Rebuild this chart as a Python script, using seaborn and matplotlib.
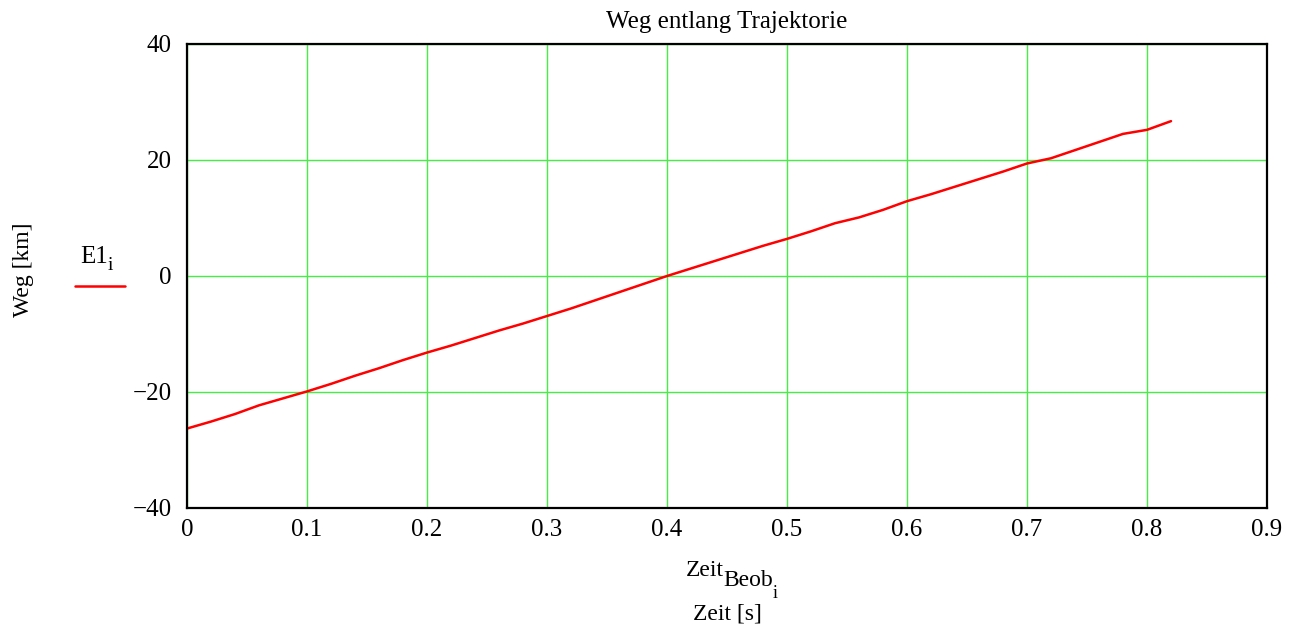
import matplotlib
matplotlib.use("Agg")
import matplotlib.pyplot as plt
import seaborn as sns
import numpy as np
import pandas as pd

time_s = [0.00, 0.02, 0.04, 0.06, 0.08, 0.10, 0.12, 0.14, 0.16, 0.18,
          0.20, 0.22, 0.24, 0.26, 0.28, 0.30, 0.32, 0.34, 0.36, 0.38,
          0.40, 0.42, 0.44, 0.46, 0.48, 0.50, 0.52, 0.54, 0.56, 0.58,
          0.60, 0.62, 0.64, 0.66, 0.68, 0.70, 0.72, 0.74, 0.76, 0.78,
          0.80, 0.82]
weg_km = [-26.3, -25.1, -23.8, -22.3, -21.1, -19.9, -18.6, -17.2, -15.9, -14.5,
          -13.2, -12.0, -10.7, -9.4, -8.2, -6.9, -5.6, -4.2, -2.8, -1.4,
          0.0, 1.3, 2.6, 3.9, 5.2, 6.4, 7.7, 9.1, 10.1, 11.4,
          12.9, 14.1, 15.4, 16.7, 18.0, 19.4, 20.3, 21.7, 23.1, 24.5,
          25.2, 26.7]
x_ticks = [0, 0.1, 0.2, 0.3, 0.4, 0.5, 0.6, 0.7, 0.8, 0.9]
x_labels = ["0", "0.1", "0.2", "0.3", "0.4", "0.5", "0.6", "0.7", "0.8", "0.9"]
y_ticks = [-40, -20, 0, 20, 40]
y_labels = ["\u221240", "\u221220", "0", "20", "40"]

sns.set_style("white")
plt.rcParams['font.family'] = ['Liberation Serif', 'DejaVu Serif']
plt.rcParams['text.color'] = 'black'

df = pd.DataFrame({"t": time_s, "w": weg_km})

fig = plt.figure(figsize=(13.03, 6.32), dpi=100)
ax = fig.add_axes([187/1303, (632-508)/632, 1080/1303, 464/632])
sns.lineplot(data=df, x="t", y="w", ax=ax, color="#ff0000", linewidth=1.8)

ax.set_xlim(0, 0.9)
ax.set_ylim(-40, 40)
ax.set_xticks(x_ticks)
ax.set_xticklabels(x_labels)
ax.set_yticks(y_ticks)
ax.set_yticklabels(y_labels)
ax.tick_params(axis='both', length=0, labelsize=18, colors='black')
ax.tick_params(axis='x', pad=8)
ax.tick_params(axis='y', pad=11)
ax.grid(True, color="#44ee44", linewidth=1.0)
ax.set_axisbelow(True)
for s in ax.spines.values():
    s.set_color("black")
    s.set_linewidth(1.6)
    s.set_visible(True)

ax.set_xlabel("")
ax.set_ylabel("")

def fy(py):
    return 1 - py / 632

def fx(px):
    return px / 1303

fig.text(fx(727), fy(22), "Weg entlang Trajektorie", ha="center", va="center", fontsize=18)
fig.text(fx(24), fy(270), "Weg [km]", ha="center", va="center", rotation=90, fontsize=17)

# legend entry
fig.text(fx(80), fy(257), "E1", ha="left", va="center", fontsize=18)
fig.text(fx(108), fy(265), "i", ha="left", va="center", fontsize=14)
fig.add_artist(plt.Line2D([fx(75), fx(125)], [fy(286), fy(286)], color="#ff0000", linewidth=1.8))

# x label with nested subscripts
fig.text(fx(686), fy(570), "Zeit", ha="left", va="center", fontsize=17)
fig.text(fx(723), fy(580), "Beob", ha="left", va="center", fontsize=17)
fig.text(fx(773), fy(594), "i", ha="left", va="center", fontsize=13)
fig.text(fx(727), fy(614), "Zeit [s]", ha="center", va="center", fontsize=17)

fig.savefig("out.png", dpi=100)
